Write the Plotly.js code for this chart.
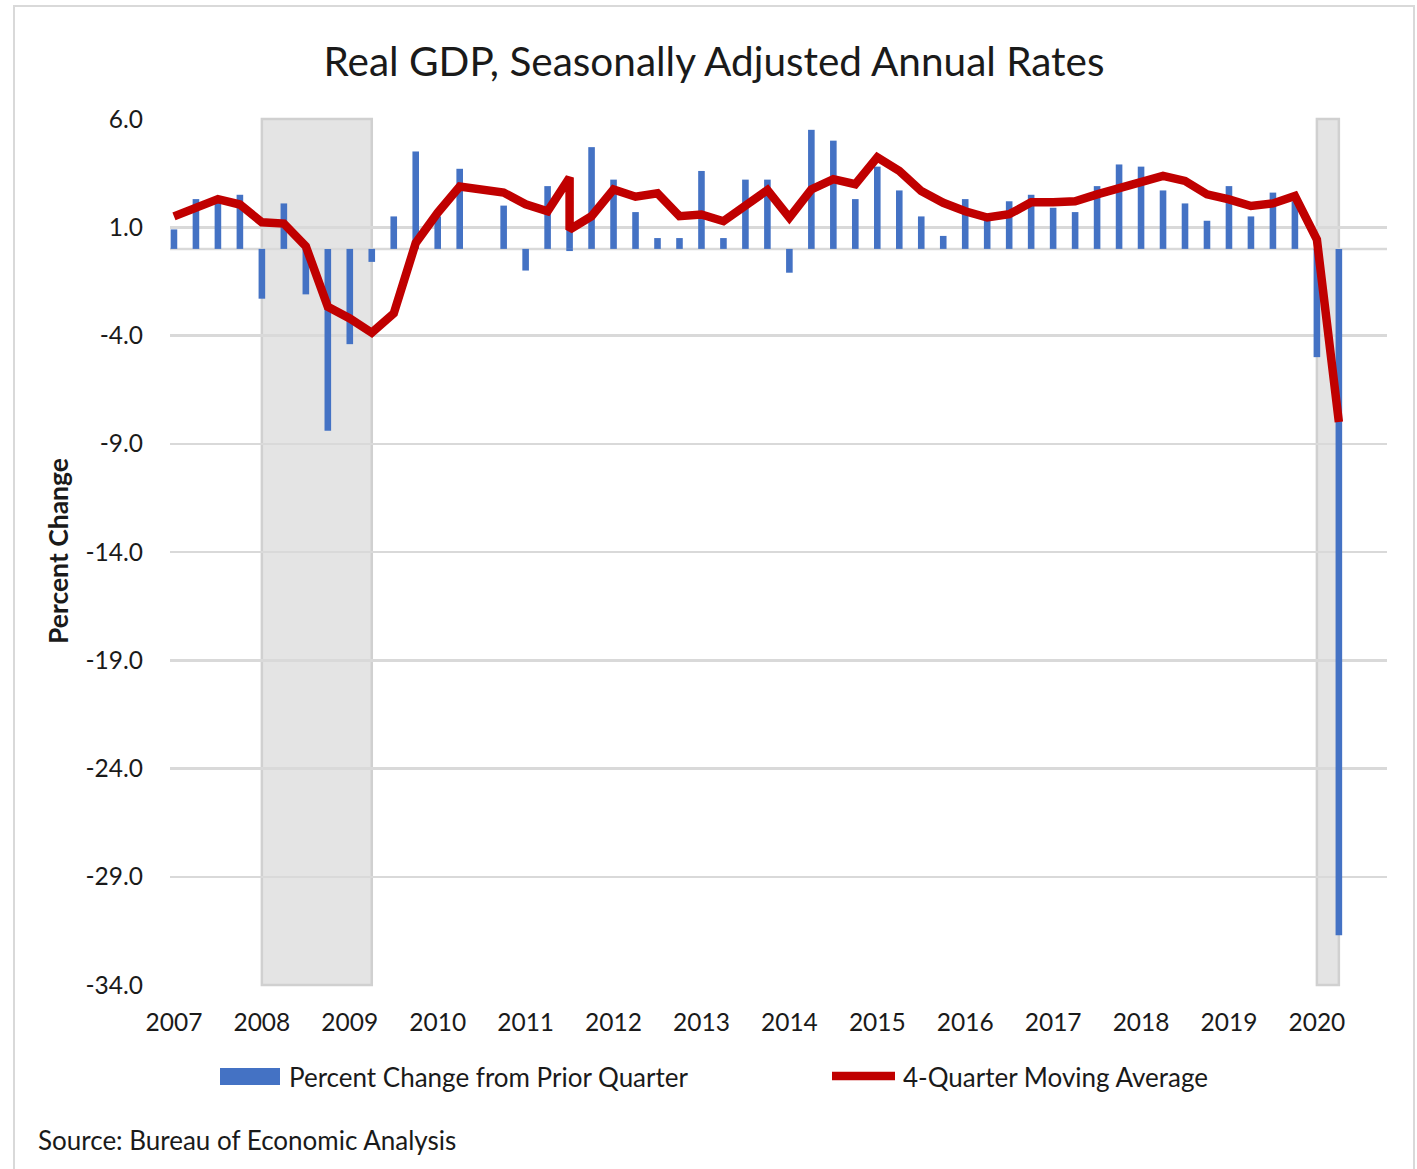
<!DOCTYPE html>
<html>
<head>
<meta charset="utf-8">
<script src="https://cdn.plot.ly/plotly-3.0.1.min.js"></script>
<style>
  html, body { margin: 0; padding: 0; background: #ffffff; }
  #chart { width: 1417px; height: 1169px; }
</style>
</head>
<body>
<div id="chart"></div>
<script>
// ---------------- DATA ----------------
// All quarters shown on the axis
const allQuarters = [
  '2007Q1','2007Q2','2007Q3','2007Q4','2008Q1','2008Q2','2008Q3','2008Q4',
  '2009Q1','2009Q2','2009Q3','2009Q4','2010Q1','2010Q2','2010Q3','2010Q4',
  '2011Q1','2011Q2','2011Q3','2011Q4','2012Q1','2012Q2','2012Q3','2012Q4',
  '2013Q1','2013Q2','2013Q3','2013Q4','2014Q1','2014Q2','2014Q3','2014Q4',
  '2015Q1','2015Q2','2015Q3','2015Q4','2016Q1','2016Q2','2016Q3','2016Q4',
  '2017Q1','2017Q2','2017Q3','2017Q4','2018Q1','2018Q2','2018Q3','2018Q4',
  '2019Q1','2019Q2','2019Q3','2019Q4','2020Q1','2020Q2'
];
// Quarters of the plotted rows (as in the source chart: the 2010Q3 row is plotted at 2011Q3)
const rowQuarters = [
  '2007Q1','2007Q2','2007Q3','2007Q4','2008Q1','2008Q2','2008Q3','2008Q4',
  '2009Q1','2009Q2','2009Q3','2009Q4','2010Q1','2010Q2','2010Q4',
  '2011Q1','2011Q2','2011Q3','2011Q3','2011Q4','2012Q1','2012Q2','2012Q3','2012Q4',
  '2013Q1','2013Q2','2013Q3','2013Q4','2014Q1','2014Q2','2014Q3','2014Q4',
  '2015Q1','2015Q2','2015Q3','2015Q4','2016Q1','2016Q2','2016Q3','2016Q4',
  '2017Q1','2017Q2','2017Q3','2017Q4','2018Q1','2018Q2','2018Q3','2018Q4',
  '2019Q1','2019Q2','2019Q3','2019Q4','2020Q1','2020Q2'
];
// Percent change from prior quarter (SAAR)
const pctChange = [
  0.9, 2.3, 2.4, 2.5, -2.3, 2.1, -2.1, -8.4,
  -4.4, -0.6, 1.5, 4.5, 1.5, 3.7, 2.0,
  -1.0, 2.9, 3.0, -0.1, 4.7, 3.2, 1.7, 0.5, 0.5,
  3.6, 0.5, 3.2, 3.2, -1.1, 5.5, 5.0, 2.3,
  3.8, 2.7, 1.5, 0.6, 2.3, 1.3, 2.2, 2.5,
  1.9, 1.7, 2.9, 3.9, 3.8, 2.7, 2.1, 1.3,
  2.9, 1.5, 2.6, 2.2, -5.0, -31.7
];
// 4-quarter moving average
const movingAvg = [
  1.5, 1.9, 2.3, 2.05, 1.23, 1.17, 0.12, -2.67,
  -3.21, -3.87, -2.98, 0.27, 1.67, 2.88, 2.6,
  2.06, 1.74, 3.3, 0.89, 1.51, 2.75, 2.41, 2.57, 1.51,
  1.59, 1.28, 1.95, 2.72, 1.44, 2.75, 3.22, 2.99,
  4.23, 3.6, 2.67, 2.13, 1.74, 1.45, 1.6, 2.15,
  2.15, 2.2, 2.52, 2.79, 3.14, 3.37, 3.14, 2.52,
  2.29, 1.98, 2.1, 2.44, 0.43, -8.0
];
// Recessions (shaded)
const recessionStart = ['2008Q1', '2020Q1'];
const recessionEnd   = ['2009Q2', '2020Q2'];
// Axis ticks
const yearLabels = ['2007','2008','2009','2010','2011','2012','2013','2014','2015','2016','2017','2018','2019','2020'];
const yTicks = [6, 1, -4, -9, -14, -19, -24, -29, -34];
const yTickLabels = ['6.0', '1.0', '-4.0', '-9.0', '-14.0', '-19.0', '-24.0', '-29.0', '-34.0'];

const seriesNames = ['Percent Change from Prior Quarter', '4-Quarter Moving Average'];
const chartTitle = 'Real GDP, Seasonally Adjusted Annual Rates';
const yTitle = 'Percent Change';
const sourceText = 'Source: Bureau of Economic Analysis';

// ---------------- LAYOUT ----------------
const W = 1417, H = 1169;
const M = { l: 170, r: 30, t: 119, b: 184 };
const PW = W - M.l - M.r, PH = H - M.t - M.b;
const px2x = p => (p - M.l) / PW;
const px2y = p => (H - M.b - p) / PH;

const xIdx = rowQuarters.map(q => allQuarters.indexOf(q));
const tickIdx = yearLabels.map(y => allQuarters.indexOf(y + 'Q1'));

const FONT = 'Lato, "Open Sans", sans-serif';
const TXT = '#1a1a1a';
const BLUE = '#4472C4';
const RED = '#C00000';
const GRID = '#d9d9d9';

const traces = [
  {
    type: 'bar', x: xIdx, y: pctChange, name: seriesNames[0],
    marker: { color: BLUE, line: { width: 0 } }, width: 0.3,
    hoverinfo: 'y'
  },
  {
    type: 'scatter', mode: 'lines', x: xIdx, y: movingAvg, name: seriesNames[1],
    line: { color: RED, width: 8.5, shape: 'linear' },
    hoverinfo: 'y'
  }
];

const shapes = [];
// recession shading
recessionStart.forEach((s, i) => {
  shapes.push({
    type: 'rect', layer: 'between', xref: 'x', yref: 'paper',
    x0: allQuarters.indexOf(s), x1: allQuarters.indexOf(recessionEnd[i]), y0: 0, y1: 1,
    fillcolor: '#e4e4e4', line: { color: '#d0d0d0', width: 2.5 }
  });
});
// zero axis line
shapes.push({
  type: 'line', layer: 'between', xref: 'paper', yref: 'y',
  x0: 0, x1: 1, y0: 0, y1: 0, line: { color: GRID, width: 2.5 }
});
// chart border
shapes.push({
  type: 'rect', layer: 'below', xref: 'paper', yref: 'paper',
  x0: px2x(14), x1: px2x(1414), y0: px2y(1200), y1: px2y(6),
  fillcolor: 'rgba(0,0,0,0)', line: { color: '#d9d9d9', width: 2 }
});
// legend swatches
shapes.push({
  type: 'rect', layer: 'above', xref: 'paper', yref: 'paper',
  x0: px2x(220), x1: px2x(280), y0: px2y(1085), y1: px2y(1068),
  fillcolor: BLUE, line: { width: 0 }
});
shapes.push({
  type: 'line', layer: 'above', xref: 'paper', yref: 'paper',
  x0: px2x(832), x1: px2x(895), y0: px2y(1076), y1: px2y(1076),
  line: { color: RED, width: 8.5 }
});

const annotations = [
  { xref: 'paper', yref: 'paper', x: px2x(287), y: px2y(1077), xanchor: 'left', yanchor: 'middle',
    text: seriesNames[0], showarrow: false, font: { family: FONT, size: 26, color: TXT } },
  { xref: 'paper', yref: 'paper', x: px2x(901), y: px2y(1077), xanchor: 'left', yanchor: 'middle',
    text: seriesNames[1], showarrow: false, font: { family: FONT, size: 26, color: TXT } },
  { xref: 'paper', yref: 'paper', x: px2x(36), y: px2y(1140), xanchor: 'left', yanchor: 'middle',
    text: sourceText, showarrow: false, font: { family: FONT, size: 26, color: TXT } },
  { xref: 'paper', yref: 'paper', x: px2x(58), y: px2y(551), xanchor: 'center', yanchor: 'middle',
    text: '<b>' + yTitle + '</b>', textangle: -90, showarrow: false,
    font: { family: FONT, size: 26.5, color: TXT } }
];

const layout = {
  width: W, height: H,
  margin: M,
  paper_bgcolor: '#ffffff', plot_bgcolor: '#ffffff',
  showlegend: false,
  bargap: 0.7,
  title: {
    text: chartTitle, xref: 'container', yref: 'container',
    x: 714 / W, y: 1 - 62 / H, xanchor: 'center', yanchor: 'middle',
    font: { family: FONT, size: 40.5, color: TXT }
  },
  xaxis: {
    type: 'linear', range: [-0.18, 55.19],
    tickmode: 'array', tickvals: tickIdx, ticktext: yearLabels,
    showgrid: false, zeroline: false, showline: false, ticks: '',
    ticklabelstandoff: 20,
    tickfont: { family: FONT, size: 24.5, color: TXT }
  },
  yaxis: {
    range: [-34, 6], tickmode: 'array', tickvals: yTicks, ticktext: yTickLabels,
    showgrid: true, gridcolor: GRID, gridwidth: 2.5,
    zeroline: false, showline: false, ticks: '',
    ticklabelstandoff: 26,
    tickfont: { family: FONT, size: 24.5, color: TXT }
  },
  shapes: shapes,
  annotations: annotations
};

Plotly.newPlot('chart', traces, layout, { displayModeBar: false, staticPlot: true });
</script>
</body>
</html>
